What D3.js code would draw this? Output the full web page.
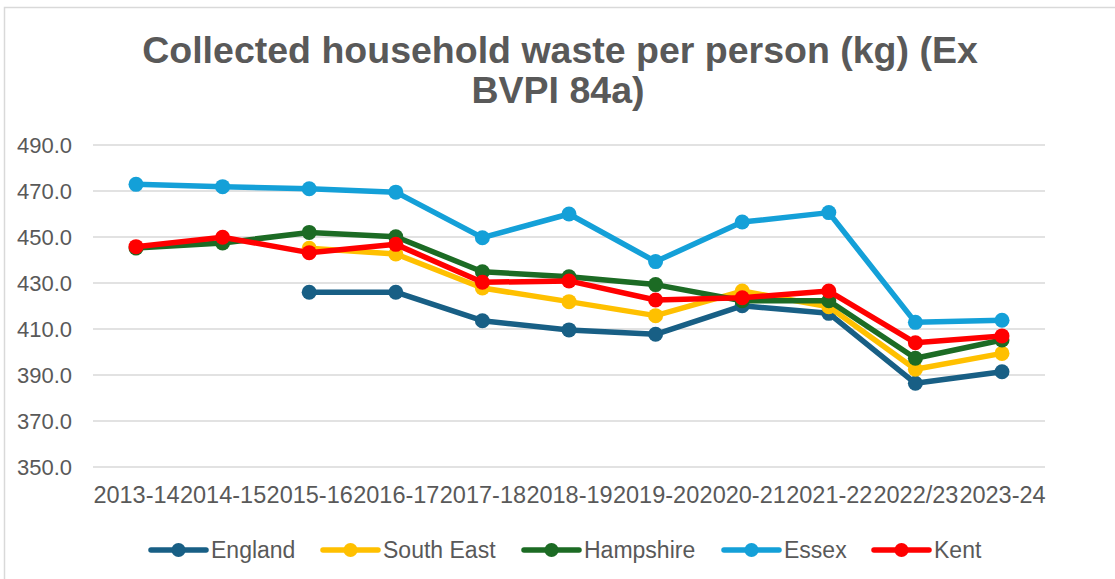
<!DOCTYPE html>
<html>
<head>
<meta charset="utf-8">
<script src="https://cdn.jsdelivr.net/npm/d3@7"></script>
<style>
  body { margin: 0; background: #fff; }
  svg text { font-family: "Liberation Sans", Arial, sans-serif; fill: #595959; }
</style>
</head>
<body>
<svg id="chart" width="1115" height="579"></svg>
<script>
// data
var years = ["2013-14", "2014-15", "2015-16", "2016-17", "2017-18", "2018-19",
  "2019-20", "2020-21", "2021-22", "2022/23", "2023-24"];
var england    = [null, null, 426.0, 426.0, 413.6, 409.6, 407.7, 420.1, 416.8, 386.4, 391.4];
var southEast  = [null, null, 445.1, 442.6, 427.8, 421.9, 415.8, 426.5, 419.7, 392.5, 399.4];
var hampshire  = [445.2, 447.4, 452.0, 450.1, 434.9, 432.7, 429.3, 422.3, 422.3, 397.3, 405.2];
var essex      = [472.9, 471.9, 471.0, 469.5, 449.7, 460.0, 439.3, 456.5, 460.6, 412.9, 413.8];
var kent       = [445.8, 449.9, 443.2, 446.8, 430.3, 430.9, 422.6, 423.6, 426.5, 404.0, 407.0];
var seriesNames = ["England", "South East", "Hampshire", "Essex", "Kent"];
var yTicks = [350, 370, 390, 410, 430, 450, 470, 490];

var colors = ["#185f85", "#ffc000", "#1c6b24", "#14a0d8", "#ff0000"];
var seriesVals = [england, southEast, hampshire, essex, kent];

var svg = d3.select("#chart");
var W = 1115, H = 579;

// outer chart border (right/bottom run off the picture)
svg.append("rect")
  .attr("x", 4.5).attr("y", 7.5)
  .attr("width", W + 20).attr("height", H + 20)
  .attr("fill", "none").attr("stroke", "#d9d9d9").attr("stroke-width", 1.5);

// title
var title = svg.append("text")
  .attr("text-anchor", "middle")
  .style("font-size", "37.5px").style("font-weight", "bold");
title.append("tspan").attr("x", 560).attr("y", 63).text("Collected household waste per person (kg) (Ex");
title.append("tspan").attr("x", 558).attr("y", 103).text("BVPI 84a)");

var x = d3.scalePoint().domain(years).range([136, 1002]);
var y = d3.scaleLinear().domain([350, 490]).range([467, 145]);

// gridlines
svg.append("g").selectAll("line")
  .data(yTicks).enter().append("line")
  .attr("x1", 93).attr("x2", 1045)
  .attr("y1", function(d){ return y(d); })
  .attr("y2", function(d){ return y(d); })
  .attr("stroke", "#d9d9d9").attr("stroke-width", 1.5);

// y axis
var yAxis = svg.append("g")
  .attr("transform", "translate(72,0)")
  .call(d3.axisLeft(y).tickValues(yTicks).tickFormat(d3.format(".1f")).tickSize(0).tickPadding(0));
yAxis.select(".domain").remove();
yAxis.selectAll("text").style("font-size", "22px").attr("fill", "#595959").attr("dy", "0.35em");

// x axis
var xAxis = svg.append("g")
  .attr("transform", "translate(0,467)")
  .call(d3.axisBottom(x).tickSize(0).tickPadding(19));
xAxis.select(".domain").remove();
xAxis.selectAll("text").style("font-size", "23.5px").attr("fill", "#595959");

// lines and markers
var line = d3.line()
  .defined(function(d){ return d != null; })
  .x(function(d, i){ return x(years[i]); })
  .y(function(d){ return y(d); });

seriesVals.forEach(function(vals, s){
  var g = svg.append("g");
  g.append("path")
    .datum(vals)
    .attr("d", line)
    .attr("fill", "none")
    .attr("stroke", colors[s])
    .attr("stroke-width", 5.5)
    .attr("stroke-linejoin", "round");
  g.selectAll("circle")
    .data(vals.map(function(v, i){ return {v: v, i: i}; }).filter(function(d){ return d.v != null; }))
    .enter().append("circle")
    .attr("cx", function(d){ return x(years[d.i]); })
    .attr("cy", function(d){ return y(d.v); })
    .attr("r", 7.5)
    .attr("fill", colors[s]);
});

// legend
var legendX = [151, 323, 524, 724, 874];
var legend = svg.append("g").attr("transform", "translate(0,550)");
seriesNames.forEach(function(name, s){
  var lg = legend.append("g").attr("transform", "translate(" + legendX[s] + ",0)");
  lg.append("line").attr("x1", 0).attr("x2", 55)
    .attr("stroke", colors[s]).attr("stroke-width", 5.5).attr("stroke-linecap", "round");
  lg.append("circle").attr("cx", 27.5).attr("r", 7).attr("fill", colors[s]);
  lg.append("text").attr("x", 60).attr("dy", "0.35em")
    .style("font-size", "23px").text(name);
});
</script>
</body>
</html>
